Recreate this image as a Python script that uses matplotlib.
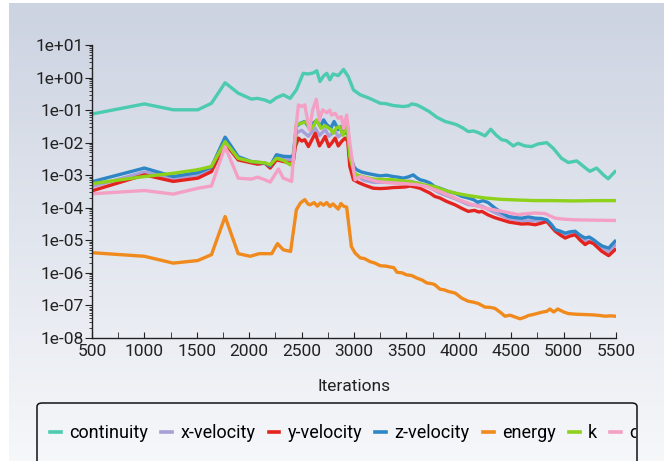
import numpy as np
import matplotlib
matplotlib.use("Agg")
import matplotlib.pyplot as plt
from matplotlib.ticker import FuncFormatter, LogLocator, MultipleLocator, NullFormatter
from matplotlib.patches import FancyBboxPatch
from matplotlib.transforms import Bbox

plt.rcParams['font.family'] = ['Roboto', 'DejaVu Sans']

# ---- data (log10 of residual vs iteration) ----
cont_it = [500, 1000, 1275, 1510, 1640, 1770, 1895, 2020, 2080, 2150, 2200, 2260, 2325, 2390, 2450, 2515, 2560,
           2610, 2645, 2675, 2710, 2740, 2770, 2800, 2850, 2900, 2945, 2995, 3060, 3150, 3250, 3300, 3375, 3470,
           3520, 3550, 3600, 3660, 3720, 3790, 3870, 3930, 3980, 4040, 4090, 4140, 4185, 4250, 4305, 4360, 4410,
           4455, 4520, 4565, 4630, 4695, 4755, 4840, 4900, 4980, 5045, 5125, 5190, 5250, 5315, 5380, 5425, 5490]
cont_lg = [-1.12, -0.81, -0.99, -0.99, -0.79, -0.16, -0.48, -0.66, -0.64, -0.69, -0.76, -0.62, -0.53, -0.64, -0.38,
           0.13, 0.11, 0.14, 0.21, -0.12, 0.05, 0.13, -0.07, 0.11, 0.06, 0.25, 0.03, -0.38, -0.53, -0.64, -0.79,
           -0.80, -0.86, -0.89, -0.87, -0.81, -0.84, -0.94, -1.05, -1.22, -1.35, -1.40, -1.45, -1.55, -1.66, -1.64,
           -1.69, -1.79, -1.59, -1.78, -1.91, -1.94, -2.10, -2.02, -2.10, -2.12, -2.04, -2.00, -2.17, -2.48, -2.61,
           -2.56, -2.73, -2.88, -2.78, -2.99, -3.11, -2.89]

xvel_it = [500, 1000, 1275, 1510, 1640, 1770, 1895, 2020, 2150, 2200, 2260, 2390, 2420, 2450, 2500, 2565, 2630,
           2670, 2725, 2760, 2820, 2850, 2915, 2940, 2960, 3000, 3090, 3185, 3310, 3440, 3535, 3630, 3725, 3820,
           3965, 4090, 4220, 4345, 4475, 4600, 4730, 4840, 4920, 5015, 5110, 5205, 5285, 5365, 5430, 5490]
xvel_lg = [-3.35, -2.90, -3.10, -3.00, -2.82, -1.92, -2.48, -2.60, -2.63, -2.75, -2.45, -2.52, -2.50, -1.70, -1.62,
           -1.80, -1.55, -1.78, -1.60, -1.80, -1.65, -1.82, -1.65, -1.70, -2.55, -2.95, -3.15, -3.22, -3.22, -3.23,
           -3.18, -3.27, -3.38, -3.55, -3.72, -3.90, -3.95, -4.15, -4.33, -4.40, -4.40, -4.38, -4.68, -4.85, -4.78,
           -5.02, -5.03, -5.25, -5.35, -5.15]

yvel_it = [500, 1000, 1275, 1510, 1640, 1770, 1895, 2020, 2080, 2150, 2200, 2260, 2330, 2390, 2420, 2440, 2470,
           2500, 2530, 2565, 2600, 2630, 2670, 2700, 2725, 2760, 2790, 2820, 2850, 2885, 2915, 2940, 2960, 2995,
           3040, 3090, 3140, 3185, 3250, 3310, 3370, 3440, 3490, 3535, 3580, 3630, 3680, 3725, 3770, 3820, 3880,
           3965, 4030, 4090, 4150, 4190, 4220, 4280, 4340, 4410, 4480, 4540, 4600, 4660, 4730, 4790, 4840, 4880,
           4920, 4970, 5015, 5060, 5110, 5160, 5205, 5245, 5285, 5325, 5365, 5430, 5490]
yvel_lg = [-3.48, -2.99, -3.19, -3.09, -2.89, -2.02, -2.53, -2.62, -2.66, -2.63, -2.78, -2.53, -2.58, -2.63, -2.60,
           -2.12, -1.86, -1.95, -1.91, -2.12, -1.90, -1.71, -2.10, -1.95, -1.81, -2.12, -2.00, -1.86, -2.10, -1.95,
           -1.86, -1.95, -2.73, -3.14, -3.22, -3.29, -3.35, -3.40, -3.41, -3.40, -3.38, -3.37, -3.36, -3.33, -3.36,
           -3.40, -3.48, -3.55, -3.65, -3.70, -3.80, -3.91, -4.02, -4.11, -4.08, -4.13, -4.11, -4.22, -4.30, -4.37,
           -4.44, -4.47, -4.50, -4.49, -4.52, -4.47, -4.42, -4.57, -4.72, -4.84, -4.93, -4.87, -4.83, -5.00, -5.13,
           -5.05, -5.10, -5.22, -5.34, -5.47, -5.29]

zvel_it = [500, 1000, 1275, 1510, 1640, 1770, 1895, 2020, 2150, 2200, 2260, 2330, 2390, 2420, 2450, 2490, 2530,
           2575, 2610, 2645, 2680, 2710, 2740, 2780, 2810, 2850, 2880, 2910, 2935, 2965, 3000, 3025, 3070, 3120,
           3180, 3250, 3310, 3375, 3420, 3470, 3520, 3565, 3600, 3630, 3680, 3725, 3770, 3820, 3860, 3900, 3960,
           4030, 4090, 4140, 4180, 4230, 4280, 4345, 4410, 4475, 4540, 4600, 4660, 4730, 4790, 4840, 4880, 4920,
           4970, 5015, 5060, 5110, 5160, 5205, 5245, 5285, 5325, 5365, 5430, 5490]
zvel_lg = [-3.20, -2.78, -3.04, -2.92, -2.75, -1.83, -2.43, -2.58, -2.63, -2.72, -2.37, -2.42, -2.43, -2.40, -1.50,
           -1.40, -1.35, -1.55, -1.40, -1.32, -1.50, -1.30, -1.45, -1.55, -1.35, -1.60, -1.50, -1.72, -1.42, -2.40,
           -2.75, -2.83, -2.90, -2.94, -2.98, -3.02, -3.00, -3.04, -3.06, -3.09, -3.05, -2.99, -3.08, -3.14, -3.18,
           -3.24, -3.35, -3.40, -3.45, -3.50, -3.55, -3.65, -3.70, -3.75, -3.83, -3.78, -3.84, -4.01, -4.15, -4.27,
           -4.30, -4.32, -4.28, -4.32, -4.33, -4.37, -4.50, -4.67, -4.72, -4.78, -4.74, -4.72, -4.85, -4.93, -4.90,
           -4.98, -5.08, -5.17, -5.24, -5.03]

energy_it = [500, 1000, 1275, 1510, 1640, 1770, 1895, 2010, 2095, 2215, 2270, 2325, 2395, 2450, 2490, 2530, 2560,
             2580, 2620, 2650, 2680, 2710, 2740, 2770, 2800, 2830, 2850, 2875, 2900, 2930, 2975, 3010, 3060, 3100,
             3150, 3200, 3250, 3300, 3345, 3380, 3410, 3460, 3500, 3550, 3600, 3650, 3695, 3740, 3770, 3820, 3860,
             3900, 3965, 4030, 4090, 4140, 4185, 4250, 4300, 4345, 4400, 4440, 4490, 4540, 4585, 4630, 4665, 4720,
             4790, 4840, 4870, 4905, 4945, 5000, 5045, 5120, 5205, 5280, 5350, 5395, 5450, 5490]
energy_lg = [-5.38, -5.49, -5.70, -5.62, -5.44, -4.27, -5.41, -5.49, -5.41, -5.41, -5.10, -5.29, -5.34, -4.06, -3.85,
             -3.75, -3.88, -3.91, -3.84, -3.95, -3.85, -3.92, -3.84, -3.96, -3.88, -3.98, -4.04, -3.87, -3.95, -3.98,
             -5.19, -5.39, -5.54, -5.56, -5.65, -5.70, -5.78, -5.79, -5.82, -5.84, -5.98, -6.00, -6.06, -6.08, -6.16,
             -6.22, -6.31, -6.33, -6.36, -6.50, -6.52, -6.57, -6.62, -6.78, -6.87, -6.90, -6.94, -7.05, -7.06, -7.09,
             -7.22, -7.33, -7.30, -7.36, -7.41, -7.36, -7.31, -7.27, -7.21, -7.18, -7.11, -7.20, -7.11, -7.20, -7.25,
             -7.27, -7.28, -7.29, -7.31, -7.33, -7.32, -7.33]

k_it = [500, 1000, 1275, 1510, 1640, 1770, 1895, 2020, 2150, 2200, 2260, 2330, 2390, 2420, 2450, 2500, 2545, 2580,
        2620, 2645, 2685, 2720, 2740, 2780, 2800, 2830, 2860, 2895, 2935, 2960, 3000, 3025, 3100, 3185, 3280, 3375,
        3450, 3520, 3600, 3680, 3770, 3860, 3965, 4100, 4250, 4400, 4550, 4730, 4900, 5100, 5300, 5490]
k_lg = [-3.26, -3.04, -2.94, -2.83, -2.73, -1.97, -2.48, -2.58, -2.62, -2.68, -2.48, -2.55, -2.68, -2.60, -1.45,
        -1.40, -1.35, -1.61, -1.45, -1.30, -1.56, -1.48, -1.51, -1.60, -1.71, -1.55, -1.51, -1.77, -1.45, -2.43,
        -2.90, -2.99, -3.06, -3.12, -3.13, -3.14, -3.17, -3.19, -3.24, -3.30, -3.35, -3.46, -3.55, -3.63, -3.70,
        -3.74, -3.76, -3.78, -3.78, -3.79, -3.78, -3.78]

omega_it = [500, 1000, 1275, 1510, 1640, 1770, 1895, 2020, 2080, 2150, 2200, 2280, 2325, 2405, 2440, 2470, 2500,
            2530, 2575, 2605, 2640, 2670, 2700, 2740, 2770, 2785, 2820, 2850, 2880, 2900, 2930, 2960, 3010, 3060,
            3130, 3215, 3300, 3375, 3450, 3520, 3600, 3695, 3770, 3820, 3930, 4000, 4090, 4170, 4250, 4330, 4410,
            4490, 4565, 4650, 4730, 4825, 4870, 4920, 5000, 5110, 5300, 5490]
omega_lg = [-3.57, -3.47, -3.58, -3.40, -3.33, -2.12, -3.09, -3.12, -3.06, -3.14, -3.21, -2.81, -3.09, -3.19, -1.71,
            -0.84, -0.89, -0.84, -1.61, -1.00, -0.67, -1.30, -0.99, -1.08, -1.00, -1.15, -1.10, -1.25, -1.20, -1.56,
            -1.15, -2.02, -3.14, -3.04, -3.10, -3.19, -3.22, -3.24, -3.25, -3.27, -3.29, -3.35, -3.45, -3.50, -3.65,
            -3.75, -3.86, -3.94, -4.01, -4.06, -4.11, -4.16, -4.21, -4.18, -4.16, -4.18, -4.25, -4.32, -4.35, -4.37,
            -4.38, -4.39]

labels = ["continuity", "x-velocity", "y-velocity", "z-velocity", "energy", "k", "omega"]
colors = ["#4ccbb0", "#a79fd8", "#e5231e", "#2e86c6", "#f08a1c", "#8ed11a", "#f4a0c4"]
series = [(cont_it, cont_lg), (xvel_it, xvel_lg), (yvel_it, yvel_lg), (zvel_it, zvel_lg),
          (energy_it, energy_lg), (k_it, k_lg), (omega_it, omega_lg)]
x_ticks = [500, 1000, 1500, 2000, 2500, 3000, 3500, 4000, 4500, 5000, 5500]

W, H = 664, 461
fig = plt.figure(figsize=(W / 100, H / 100), dpi=100)
fig.patch.set_facecolor("white")

# background gradient
bg = fig.add_axes([9 / W, 0, 1 - 9 / W, 1 - 3 / H], zorder=-10)
top = np.array([0.800, 0.827, 0.882])
bot = np.array([0.965, 0.970, 0.980])
t = np.linspace(0, 1, 256)[:, None]
grad = top[None, :] * (1 - t) + bot[None, :] * t
bg.imshow(grad[:, None, :].repeat(2, axis=1), aspect="auto", extent=[0, 1, 0, 1])
bg.set_axis_off()

ax = fig.add_axes([92 / W, 1 - 338 / H, 524 / W, 293 / H])
ax.patch.set_alpha(0)
for (it, lg), c, lab in zip(series, colors, labels):
    ax.plot(it, 10.0 ** np.array(lg), color=c, lw=2.4, label=lab, solid_joinstyle="round")

ax.set_yscale("log")
ax.set_ylim(1e-8, 1e1)
ax.set_xlim(500, 5500)
ax.set_xticks(x_ticks)
ax.xaxis.set_minor_locator(MultipleLocator(250))
ax.yaxis.set_major_locator(LogLocator(base=10, numticks=20))
ax.yaxis.set_minor_locator(LogLocator(base=10, subs=np.arange(2, 10), numticks=20))
ax.yaxis.set_minor_formatter(NullFormatter())
ax.yaxis.set_major_formatter(FuncFormatter(lambda v, p: f"{v:.0e}"))
for s in ["top", "right"]:
    ax.spines[s].set_visible(False)
for s in ["left", "bottom"]:
    ax.spines[s].set_color("#222222")
    ax.spines[s].set_linewidth(1.0)
ax.tick_params(axis="y", which="major", direction="out", length=5, labelsize=12.5, colors="#222222", pad=1)
ax.tick_params(axis="y", which="minor", direction="out", length=2.5, colors="#222222")
ax.tick_params(axis="x", which="both", direction="in", length=4, labelsize=12.5, colors="#222222", pad=4)
ax.set_xlabel("Iterations", fontsize=12.5, color="#222222", labelpad=15)

# legend frame (extends past the bottom edge, as in the reference)
frame = FancyBboxPatch((37 / W, -20 / H), 600 / W, (461 - 403 + 20) / H,
                       boxstyle="round,pad=0,rounding_size=0.008", transform=fig.transFigure,
                       facecolor="none", edgecolor="#111111", linewidth=1.1)
fig.patches.append(frame)

handles, labs = ax.get_legend_handles_labels()
leg = fig.legend(handles, labs, loc="center left", bbox_to_anchor=(50 / W, 1 - 433 / H), ncol=7,
                 frameon=False, fontsize=13, handlelength=0.6, handletextpad=0.45, columnspacing=0.74,
                 borderaxespad=0, borderpad=0)
for ln in leg.get_lines():
    ln.set_linewidth(2.6)
fig.canvas.draw()
clipbox = Bbox.from_extents(37, 0, 636, H)
for txt in leg.get_texts():
    txt.set_clip_box(clipbox)
    txt.set_clip_on(True)
for ln in leg.get_lines():
    ln.set_clip_box(clipbox)
    ln.set_clip_on(True)

fig.savefig("out.png", dpi=100)
